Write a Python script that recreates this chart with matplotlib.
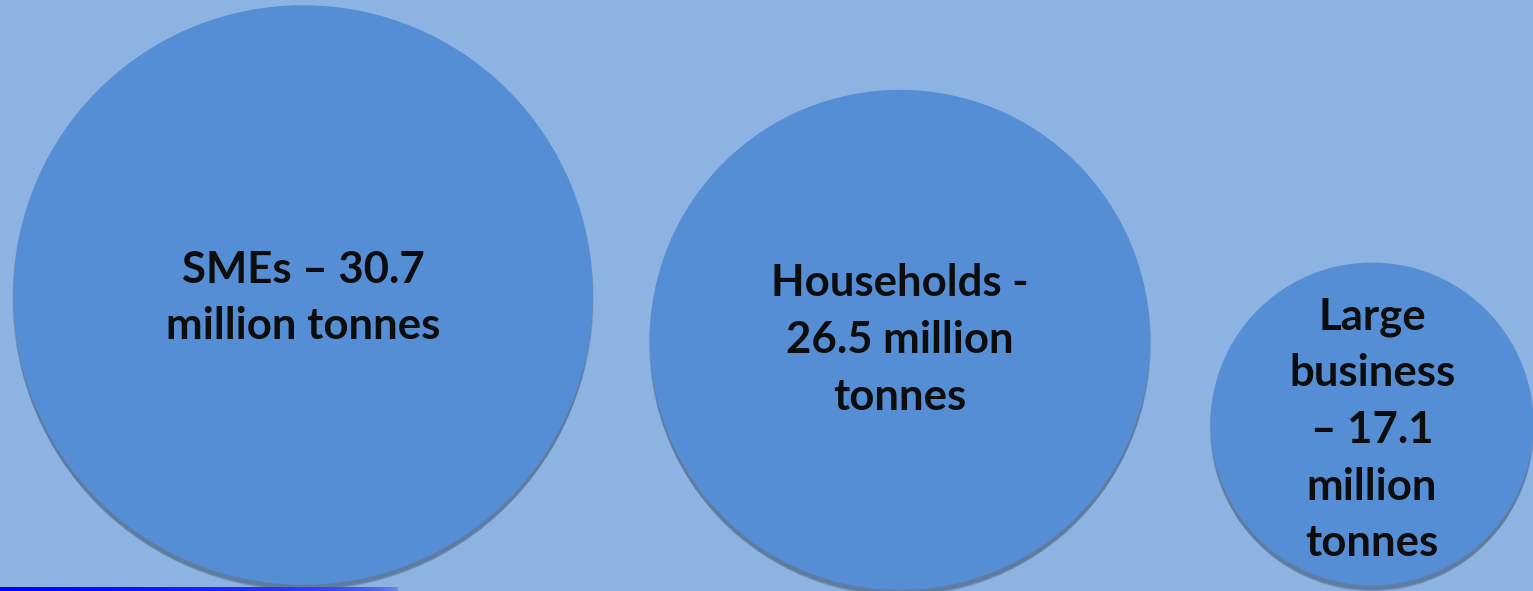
import matplotlib
matplotlib.use("Agg")
import matplotlib.pyplot as plt
from matplotlib.patches import Circle
from matplotlib.colors import LinearSegmentedColormap
import numpy as np

categories = ["SMEs", "Households", "Large business"]
values = [30.7, 26.5, 17.1]
labels = ["SMEs – 30.7\nmillion tonnes",
          "Households -\n26.5 million\ntonnes",
          "Large\nbusiness\n– 17.1\nmillion\ntonnes"]

W, H = 1533, 591
fig = plt.figure(figsize=(W / 100, H / 100), dpi=100)
fig.patch.set_facecolor("#8DB3E2")
ax = fig.add_axes([0, 0, 1, 1])
ax.set_xlim(0, W)
ax.set_ylim(H, 0)
ax.axis("off")

scale = 9.44  # px per million tonnes (radius)
centers = [(303, 295), (900, 340), (1372, 424)]
text_y = [298, 340, 430]

for (cx, cy), v, lab, ty in zip(centers, values, labels, text_y):
    r = scale * v
    # soft shadow
    for k in range(8):
        ax.add_patch(Circle((cx, cy + 3 + k * 0.6), r + 1 - k * 0.3,
                            facecolor="#34465E", edgecolor="none", alpha=0.08, zorder=1))
    ax.add_patch(Circle((cx, cy), r, facecolor="#558ED5", edgecolor="none", zorder=2))
    ax.text(cx, ty, lab, ha="center", va="center", fontsize=31.5, fontweight="bold",
            family=["Lato", "DejaVu Sans"], color="#0D0D0D", linespacing=1.5, zorder=3)

# blue gradient bar at bottom-left
grad = np.linspace(1, 0, 256).reshape(1, -1)
cmap = LinearSegmentedColormap.from_list("b", [(0, "#8DB3E2"), (1, "#0000FF")])
ax.imshow(grad ** 0.3, cmap=cmap, extent=[0, 400, H, H - 4], aspect="auto", zorder=4,
          vmin=0, vmax=1)
ax.set_xlim(0, W)
ax.set_ylim(H, 0)

fig.savefig("out.png", dpi=100, facecolor=fig.get_facecolor())
